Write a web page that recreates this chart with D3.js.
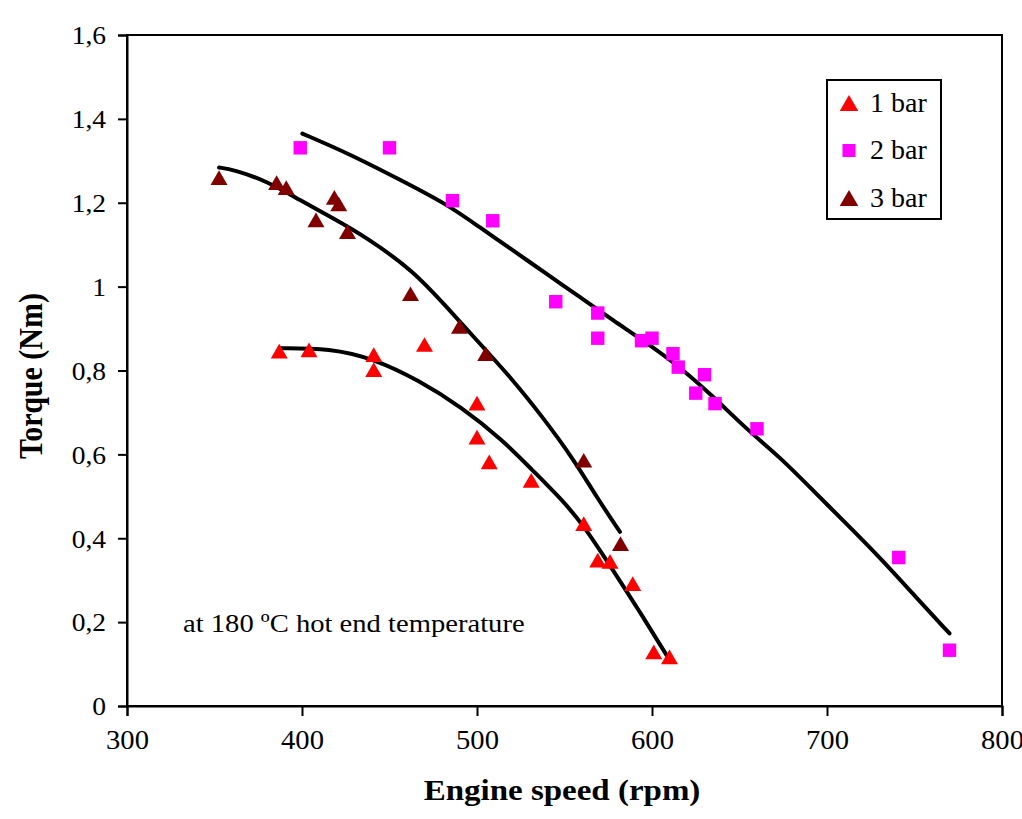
<!DOCTYPE html>
<html>
<head>
<meta charset="utf-8">
<script src="https://cdn.jsdelivr.net/npm/d3@7"></script>
<style>
  body { margin: 0; background: #fff; }
  svg { display: block; }
  svg text { font-family: "Liberation Serif", "Times New Roman", serif; }
</style>
</head>
<body>
<svg id="chart"></svg>
<script>
var width = 1022;
var height = 819;

// measured points (engine speed rpm / torque Nm)
var bar1Speed = [387, 404, 441, 441, 470, 500, 500, 507, 531, 561, 569, 576, 589, 601, 610];
var bar1Torque = [0.846, 0.849, 0.838, 0.802, 0.862, 0.722, 0.641, 0.582, 0.538, 0.435, 0.348, 0.345, 0.292, 0.129, 0.117];

var bar2Speed = [399, 450, 486, 509, 545, 569, 569, 594, 600, 612, 615, 630, 625, 636, 660, 741, 770];
var bar2Torque = [1.331, 1.331, 1.205, 1.157, 0.964, 0.937, 0.877, 0.871, 0.877, 0.840, 0.808, 0.790, 0.746, 0.721, 0.661, 0.354, 0.133];

var bar3Speed = [352.6, 385.5, 391, 408, 418.5, 421, 426, 462, 490, 505, 561, 582];
var bar3Torque = [1.260, 1.248, 1.236, 1.159, 1.213, 1.197, 1.131, 0.983, 0.905, 0.840, 0.586, 0.387];

// trend lines
var trend1Speed = [387, 416, 441, 467, 491, 515, 531, 549, 561, 576, 593, 610];
var trend1Torque = [0.853, 0.853, 0.828, 0.776, 0.713, 0.633, 0.565, 0.490, 0.430, 0.335, 0.225, 0.110];

var trend2Speed = [400.2, 427.4, 456, 482.7, 501.7, 520.8, 539.8, 558.9, 577.9, 597, 616, 635, 654, 673, 692, 711, 730, 749, 770];
var trend2Torque = [1.365, 1.316, 1.255, 1.197, 1.141, 1.086, 1.030, 0.975, 0.919, 0.866, 0.808, 0.738, 0.660, 0.594, 0.514, 0.435, 0.355, 0.268, 0.173];

var trend3Speed = [352.6, 360.7, 379.8, 398.9, 417.9, 437, 463.6, 482.7, 501.7, 520.8, 536, 555, 568.4, 581.7];
var trend3Torque = [1.284, 1.279, 1.252, 1.206, 1.163, 1.117, 1.038, 0.951, 0.864, 0.776, 0.697, 0.590, 0.498, 0.415];

var xTicks = [300, 400, 500, 600, 700, 800];
var yTicks = [0, 0.2, 0.4, 0.6, 0.8, 1, 1.2, 1.4, 1.6];

var seriesNames = ["1 bar", "2 bar", "3 bar"];
var seriesColors = ["#ff0000", "#ff00ff", "#800000"];

var serif = '"Liberation Serif", "Times New Roman", serif';
var margin = {top: 35, right: 20, bottom: 113, left: 127};

var svg = d3.select("#chart").attr("width", width).attr("height", height);

var x = d3.scaleLinear().domain([300, 800]).range([margin.left, width - margin.right]);
var y = d3.scaleLinear().domain([0, 1.6]).range([height - margin.bottom, margin.top]);

// triangle centred on its bounding box, like the spreadsheet markers
var triangleType = {
  draw: function(context, size) {
    var h = Math.sqrt(size * 4 / Math.sqrt(3)) * Math.sqrt(3) / 2;
    var w = h * 2 / Math.sqrt(3);
    context.moveTo(0, -h / 2);
    context.lineTo(w / 2, h / 2);
    context.lineTo(-w / 2, h / 2);
    context.closePath();
  }
};
var symbolTypes = [triangleType, d3.symbolSquare, triangleType];
var symbolSizes = [125, 180, 125];

function fmt(d) {
  return String(+d.toFixed(1)).replace(".", ",");
}

// frame
svg.append("rect")
  .attr("x", x(300)).attr("y", y(1.6))
  .attr("width", x(800) - x(300)).attr("height", y(0) - y(1.6))
  .attr("fill", "none").attr("stroke", "#000").attr("stroke-width", 2);

var yAxis = svg.append("g")
  .attr("transform", "translate(" + margin.left + ",0)")
  .call(d3.axisLeft(y).tickValues(yTicks).tickSize(9).tickFormat(fmt));
yAxis.attr("font-family", serif);
yAxis.select(".domain").attr("stroke-width", 2);
yAxis.selectAll(".tick line").attr("stroke-width", 2);
yAxis.selectAll(".tick text")
  .style("font-family", serif)
  .attr("font-size", 25).attr("fill", "#000")
  .attr("x", -21 / 1.1).attr("dy", "0.35em")
  .attr("transform", "scale(1.1,1)");

var xAxis = svg.append("g")
  .attr("transform", "translate(0," + (height - margin.bottom) + ")")
  .call(d3.axisBottom(x).tickValues(xTicks).tickSize(10).tickFormat(d3.format("d")));
xAxis.attr("font-family", serif);
xAxis.select(".domain").attr("stroke-width", 2);
xAxis.selectAll(".tick line").attr("stroke-width", 2);
xAxis.selectAll(".tick text")
  .style("font-family", serif)
  .attr("font-size", 27).attr("fill", "#000")
  .attr("y", 43).attr("dy", 0)
  .attr("transform", "scale(1.06,1)");

// axis titles
svg.append("text")
  .attr("transform", "translate(562,800) scale(1.1,1)")
  .attr("text-anchor", "middle")
  .attr("font-size", 30).attr("font-weight", "bold")
  .text("Engine speed (rpm)");

svg.append("text")
  .attr("transform", "translate(42,376) rotate(-90) scale(1,1.15)")
  .attr("text-anchor", "middle")
  .attr("font-size", 30).attr("font-weight", "bold")
  .text("Torque (Nm)");

// trend lines
var line = d3.line()
  .x(function(d) { return x(d[0]); })
  .y(function(d) { return y(d[1]); })
  .curve(d3.curveBasis);

[[trend1Speed, trend1Torque], [trend2Speed, trend2Torque], [trend3Speed, trend3Torque]].forEach(function(t) {
  svg.append("path")
    .datum(d3.zip(t[0], t[1]))
    .attr("d", line)
    .attr("fill", "none")
    .attr("stroke", "#000")
    .attr("stroke-width", 4)
    .attr("stroke-linejoin", "round")
    .attr("stroke-linecap", "round");
});

// markers
var series = [[bar1Speed, bar1Torque], [bar2Speed, bar2Torque], [bar3Speed, bar3Torque]];
series.forEach(function(s, i) {
  svg.append("g").selectAll("path")
    .data(d3.zip(s[0], s[1]))
    .enter().append("path")
    .attr("transform", function(d) { return "translate(" + x(d[0]) + "," + y(d[1]) + ")"; })
    .attr("d", d3.symbol().type(symbolTypes[i]).size(symbolSizes[i]))
    .attr("fill", seriesColors[i]);
});

// note
svg.append("text")
  .attr("transform", "translate(183,632) scale(1.1,1)")
  .attr("font-size", 26)
  .text("at 180 \u00baC hot end temperature");

// legend
var legend = svg.append("g");
legend.append("rect")
  .attr("x", 827).attr("y", 80).attr("width", 114).attr("height", 139)
  .attr("fill", "#fff").attr("stroke", "#000").attr("stroke-width", 2);
seriesNames.forEach(function(name, i) {
  var cy = 103 + i * 47.5;
  legend.append("path")
    .attr("transform", "translate(849," + cy + ")")
    .attr("d", d3.symbol().type(symbolTypes[i]).size(i == 1 ? 170 : 150))
    .attr("fill", seriesColors[i]);
  legend.append("text")
    .attr("x", 870).attr("y", cy + 8.5)
    .attr("font-size", 28)
    .text(name);
});
</script>
</body>
</html>
